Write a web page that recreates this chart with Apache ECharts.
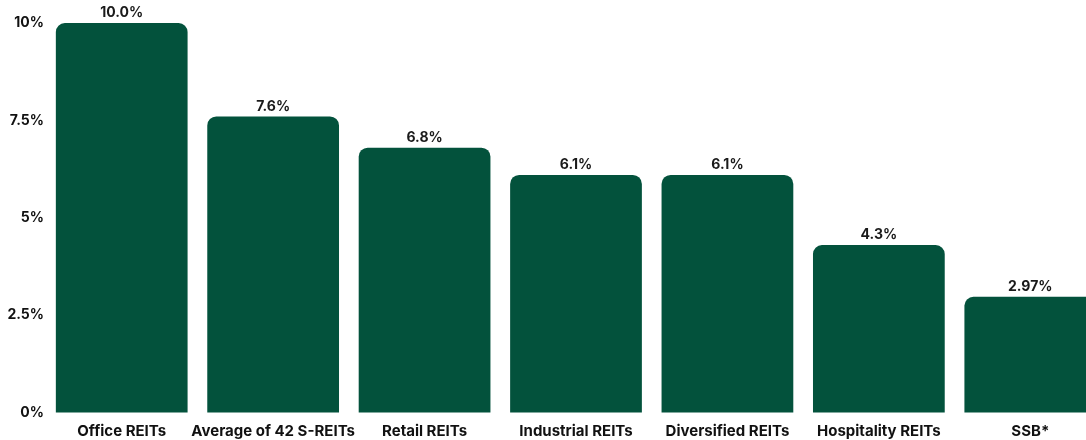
<!DOCTYPE html>
<html><head><meta charset="utf-8">
<script src="https://cdn.jsdelivr.net/npm/echarts@6/dist/echarts.min.js"></script>
<style>html,body{margin:0;padding:0;background:#fff;overflow:hidden;width:1086px;height:440px}#c{width:1106px;height:440px}</style>
</head><body><div id="c"></div>
<script>
const categories = ["Office REITs","Average of 42 S-REITs","Retail REITs","Industrial REITs","Diversified REITs","Hospitality REITs","SSB*"];
const values = [10.0, 7.6, 6.8, 6.1, 6.1, 4.3, 2.97];
const valueLabels = ["10.0%","7.6%","6.8%","6.1%","6.1%","4.3%","2.97%"];
const yTickLabels = {0:"0%",2.5:"2.5%",5:"5%",7.5:"7.5%",10:"10%"};

const chart = echarts.init(document.getElementById('c'), null, {renderer:'canvas'});
chart.setOption({
  animation:false,
  grid:{left:46, right:0, top:23, bottom:27.5, containLabel:false},
  xAxis:{type:'category', data:categories,
    axisLine:{show:false}, axisTick:{show:false},
    axisLabel:{interval:0, margin:11, color:'#111', fontFamily:'Inter', fontWeight:'bold', fontSize:15}},
  yAxis:{type:'value', min:0, max:10, interval:2.5,
    splitLine:{show:false}, axisLine:{show:false}, axisTick:{show:false},
    axisLabel:{margin:2, color:'#111', fontFamily:'Inter', fontWeight:'bold', fontSize:14,
      formatter:v=>yTickLabels[v]}},
  series:[{type:'bar', data:values, barCategoryGap:'13%',
    itemStyle:{color:'#03523c', borderRadius:[9,9,0,0]},
    label:{show:true, position:'top', distance:3, color:'#1a1a1a', fontFamily:'Inter', fontWeight:'bold', fontSize:14,
      formatter:p=>valueLabels[p.dataIndex]}}]
});
</script></body></html>
